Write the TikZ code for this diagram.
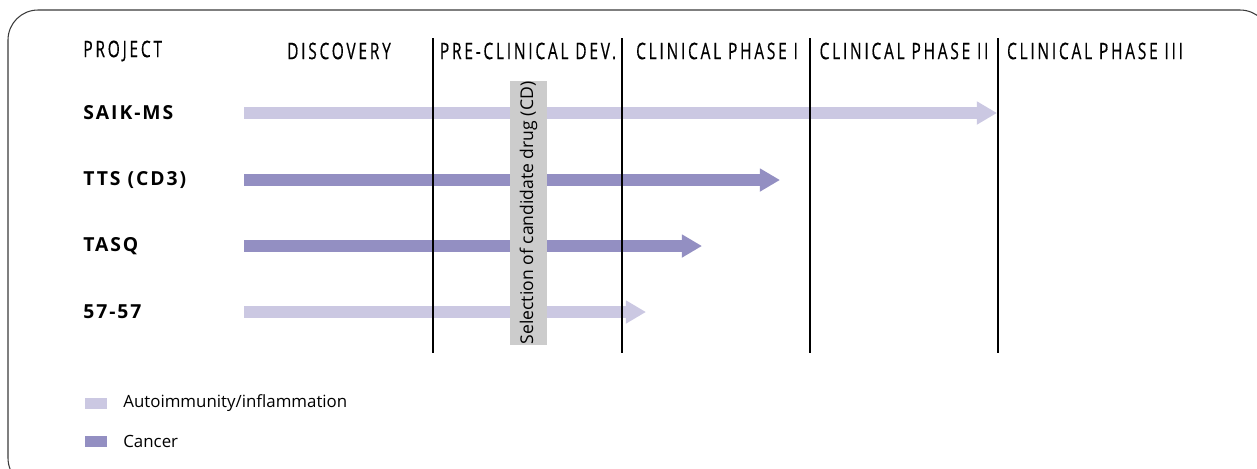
\documentclass[tikz,border=0pt]{standalone}
\usepackage{fontspec}
\setmainfont{Open Sans}
\newfontfamily\capsfont[FakeStretch=0.68,LetterSpace=12,FakeBold=0.4]{Open Sans}
\newfontfamily\namefont[LetterSpace=10]{Open Sans}
\usetikzlibrary{arrows.meta}
\definecolor{autoimm}{HTML}{CBC8E2}
\definecolor{cancer}{HTML}{938FC2}
\definecolor{cdgray}{HTML}{CCCCCC}
\definecolor{framegray}{HTML}{3A3A3A}
\tikzset{
  phase/.style={font=\capsfont\fontsize{13}{15}\selectfont, inner sep=0pt},
  project/.style={anchor=west, font=\namefont\bfseries\fontsize{11}{13}\selectfont, inner sep=0pt},
  divider/.style={line width=0.7pt},
  lightbar/.style={draw=autoimm, line width=6.4pt, -{Triangle[length=11.5pt,width=12.5pt]}},
  darkbar/.style={draw=cancer, line width=6.4pt, -{Triangle[length=11.5pt,width=12.5pt]}},
  legend/.style={anchor=west, font=\fontsize{9.6}{11}\selectfont, inner sep=0pt}
}
\begin{document}
\begin{tikzpicture}[x=0.02cm, y=-0.02cm]
            \useasboundingbox (0,0) rectangle (1257,468);
            \clip (0,0) rectangle (1257,468);
            \draw[framegray, line width=0.6pt, rounded corners=0.6cm] (8,10) rectangle (1270,488);
            % header
            \node[phase, anchor=west] (hproj) at (83,51){PROJECT};
            \node[phase] (hdisc) at (339,51){DISCOVERY};
            \node[phase] (hpre) at (528,51){PRE-CLINICAL DEV.};
            \node[phase] (hph1) at (717,51){CLINICAL PHASE I};
            \node[phase] (hph2) at (904,51){CLINICAL PHASE II};
            \node[phase] (hph3) at (1095,51){CLINICAL PHASE III};
            % projects
            \node[project] (saik) at (83,113){SAIK-MS};
            \node[project] (tts) at (83,180){TTS (CD3)};
            \node[project] (tasq) at (83,246){TASQ};
            \node[project] (p57) at (83,312){57-57};
            \coordinate (saiks) at (244,113);
            \coordinate (saike) at (997,113);
            \coordinate (ttss) at (244,180);
            \coordinate (ttse) at (780,180);
            \coordinate (tasqs) at (244,246);
            \coordinate (tasqe) at (702,246);
            \coordinate (p57s) at (244,312);
            \coordinate (p57e) at (646,312);
            \draw[lightbar] (saiks) -- (saike);
            \draw[darkbar] (ttss) -- (ttse);
            \draw[darkbar] (tasqs) -- (tasqe);
            \draw[lightbar] (p57s) -- (p57e);
            % phase dividers
            \foreach \x in {433,622,810,998}
              \draw[divider] (\x,38) -- (\x,353);
            % candidate drug
            \node[fill=cdgray, rotate=90, minimum width=5.28cm, minimum height=0.74cm,
                  inner sep=0pt, font=\fontsize{10}{12}\selectfont] (cd) at (528.5,213){Selection of candidate drug (CD)};
            % legend
            \node[fill=autoimm, minimum width=0.44cm, minimum height=0.22cm, inner sep=0pt] (kauto) at (96,403){};
            \node[legend] (lauto) at (123,403){Autoimmunity/inflammation};
            \node[fill=cancer, minimum width=0.44cm, minimum height=0.22cm, inner sep=0pt] (kcanc) at (96,441){};
            \node[legend] (lcanc) at (123,441){Cancer};
        \end{tikzpicture}
\end{document}
